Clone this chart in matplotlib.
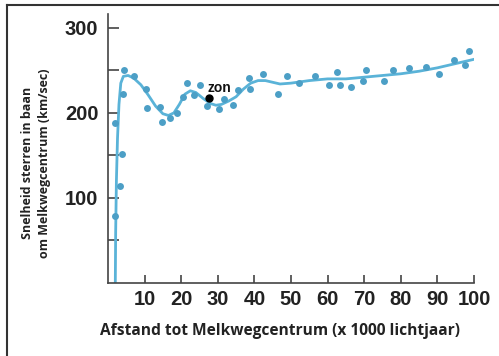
import matplotlib.pyplot as plt
from matplotlib.lines import Line2D

plt.rcParams['font.family'] = ['Liberation Sans', 'DejaVu Sans']
plt.rcParams['font.weight'] = 'bold'

# measured stars: distance (x 1000 ly), speed (km/sec)
star_x = [1.8, 2.0, 3.4, 3.8, 4.1, 4.3, 7.1, 10.3, 10.6, 14.1, 14.7, 17.0, 18.9,
          20.5, 21.6, 23.5, 25.2, 27.1, 30.3, 31.6, 34.2, 35.5, 38.5, 38.9, 42.4,
          46.5, 48.8, 52.2, 56.5, 60.4, 62.6, 63.5, 66.5, 69.6, 70.5, 75.4, 77.9,
          82.3, 86.9, 90.5, 94.5, 97.5, 98.7]
star_y = [79, 188, 114, 152, 222, 250, 243, 228, 206, 207, 189, 194, 200,
          219, 235, 221, 233, 208, 205, 216, 209, 227, 241, 228, 246,
          222, 243, 235, 243, 233, 248, 233, 230, 238, 251, 238, 251,
          253, 254, 246, 262, 256, 273]

# fitted rotation curve
curve_x = [2.0, 2.1, 2.3, 2.6, 3.0, 3.5, 4.2, 5.5, 7, 9, 11, 13, 15, 16.5, 18,
           19.5, 21, 22.5, 24, 26, 28, 29.5, 31, 33, 35, 37, 39, 41, 43, 45, 47,
           50, 55, 60, 65, 70, 75, 80, 85, 90, 95, 100]
curve_y = [0, 60, 120, 170, 210, 235, 243, 244, 241, 233, 221, 208, 199, 197, 200,
           210, 222, 226, 224, 217, 211, 209, 210, 214, 219, 228, 235, 238, 238, 236, 234,
           235, 238, 240, 240, 242, 244, 246, 249, 253, 258, 263]

sun_x, sun_y = 27.5, 217

fig = plt.figure(figsize=(4.99, 3.56), dpi=100)
ax = fig.add_axes([0.2164, 0.205, 0.7335, 0.755])

ax.plot(curve_x, curve_y, color='#5ab3d8', linewidth=2, zorder=2)
ax.plot(star_x, star_y, 'o', color='#4c9fc6', markersize=5, markeredgewidth=0, zorder=3)
ax.plot([sun_x], [sun_y], 'o', color='black', markersize=5, zorder=4)
ax.text(sun_x - 0.2, sun_y + 8, 'zon', fontsize=10, fontweight='bold', color='#111111')

ax.set_xlim(0, 100)
ax.set_ylim(0, 316)
ax.set_xticks(range(10, 101, 10))
ax.set_yticks([100, 200, 300])
ax.set_yticks([50, 150, 250], minor=True)

for s in ['top', 'right']:
    ax.spines[s].set_visible(False)
for s in ['left', 'bottom']:
    ax.spines[s].set_color('#444444')
    ax.spines[s].set_linewidth(1.2)

ax.tick_params(axis='y', which='both', direction='in', length=8, width=1.2,
               color='#444444', pad=7, labelsize=14.5, labelcolor='#222222')
ax.tick_params(axis='x', direction='in', length=6, width=1.2, color='#444444',
               pad=5, labelsize=14.5, labelcolor='#222222')

lab_font = ['Open Sans', 'DejaVu Sans']
fig.text(0.561, 0.07, 'Afstand tot Melkwegcentrum (x 1000 lichtjaar)', ha='center',
         va='center', fontsize=11.2, fontweight='bold', color='#222222', family=lab_font)
fig.text(0.056, 0.542, 'Snelheid sterren in baan', rotation=90, ha='center',
         va='center', fontsize=9, fontweight='bold', color='#222222', family=lab_font)
fig.text(0.09, 0.542, 'om Melkwegcentrum (km/sec)', rotation=90, ha='center',
         va='center', fontsize=9, fontweight='bold', color='#222222', family=lab_font)

# screenshot frame
fig.add_artist(Line2D([0.014, 0.014], [0, 0.986], transform=fig.transFigure,
                      color='#333333', linewidth=1.5))
fig.add_artist(Line2D([0.014, 1], [0.986, 0.986], transform=fig.transFigure,
                      color='#333333', linewidth=1.5))

fig.savefig('out.png', dpi=100)
